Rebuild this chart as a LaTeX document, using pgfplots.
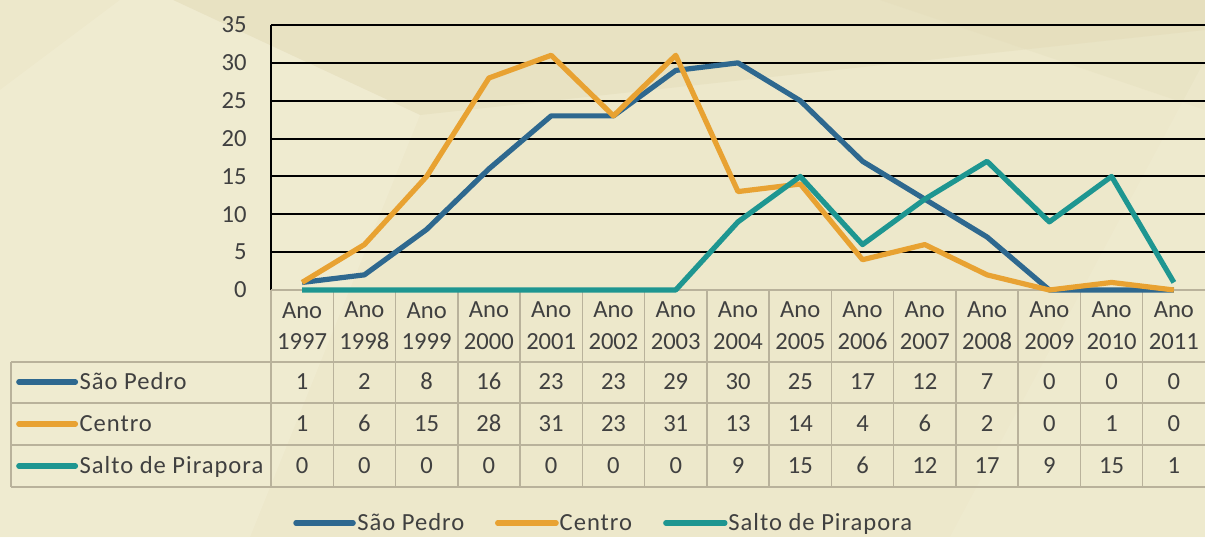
\documentclass[border=0pt]{standalone}
\usepackage{pgfplots}
\usepackage{pgfplotstable}
\pgfplotsset{compat=1.18}
\usepackage{fontspec}
\setmainfont{Carlito}
\newfontfamily\labfont[LetterSpace=4]{Carlito}

\definecolor{bgbase}{RGB}{237,232,203}
\definecolor{bgdark}{RGB}{226,219,184}
\definecolor{bglight}{RGB}{242,238,214}
\definecolor{spblue}{RGB}{46,104,143}
\definecolor{ceorange}{RGB}{232,162,50}
\definecolor{sateal}{RGB}{30,150,145}
\definecolor{tablegray}{RGB}{185,178,155}
\definecolor{textgray}{RGB}{64,64,64}

\pgfplotstableread{
x sp ce sa
0 1 1 0
1 2 6 0
2 8 15 0
3 16 28 0
4 23 31 0
5 23 23 0
6 29 31 0
7 30 13 9
8 25 14 15
9 17 4 6
10 12 6 12
11 7 2 17
12 0 0 9
13 0 1 15
14 0 0 1
}\data

\begin{document}
\fontsize{12.3}{15.8}\selectfont
\begin{tikzpicture}[
  cell/.style={text=textgray, font=\fontsize{12.3}{15.8}\selectfont, inner sep=0pt, text height=7.8pt, text depth=0pt, anchor=center},
  lab/.style={cell, anchor=west, font=\labfont\fontsize{12.3}{15.8}\selectfont},
  hdr/.style={text=textgray, font=\fontsize{12.3}{15.8}\selectfont, inner sep=0pt, align=center, anchor=center}
]
\clip (0,0) rectangle (602.5pt,268.5pt);
\fill[bgbase] (0,0) rectangle (602.5pt,268.5pt);
\begin{scope}[x=0.5pt, y=-0.5pt, yshift=268.5pt]
  \fill[bgdark, opacity=0.45] (173,0) -- (1205,0) -- (1205,30) -- (420,115) -- cycle;
  \fill[bglight, opacity=0.5] (0,90) -- (120,0) -- (173,0) -- (420,115) -- (250,537) -- (0,537) -- cycle;
  \fill[bgdark, opacity=0.3] (880,0) -- (1205,0) -- (1205,110) -- cycle;
  \fill[bglight, opacity=0.35] (1205,60) -- (1205,537) -- (950,537) -- cycle;
\end{scope}
\begin{axis}[
  at={(135.5pt,123.5pt)}, anchor=south west,
  scale only axis, width=467pt, height=132.5pt,
  xmin=-0.5, xmax=14.5, ymin=0, ymax=35,
  clip=false,
  axis x line=none,
  axis y line*=left,
  y axis line style={black, line width=1pt, -},
  ytick={5,10,...,35},
  extra y ticks={0},
  extra y tick style={ymajorgrids=false},
  ymajorgrids,
  major grid style={black, line width=1pt},
  major tick length=0pt,
  yticklabel style={text=textgray, font=\fontsize{12.3}{15.8}\selectfont, inner sep=0pt, xshift=-12pt},
  /pgf/number format/assume math mode=true,
]
% table grid
\draw[tablegray, line width=0.75pt] (axis cs:-0.5,0) -- (axis cs:14.5,0);
\pgfplotsinvokeforeach{-9.51,-14.93,-20.47,-26.02}{
  \draw[tablegray, line width=0.75pt] (axis cs:-4.675,#1) -- (axis cs:14.5,#1);
}
\pgfplotsinvokeforeach{-0.5,0.5,...,13.5}{
  \draw[tablegray, line width=0.75pt] (axis cs:#1,0) -- (axis cs:#1,-26.02);
}
\draw[tablegray, line width=0.75pt] (axis cs:-4.675,-9.51) -- (axis cs:-4.675,-26.02);
% header and values
\pgfplotsinvokeforeach{0,...,14}{
  \pgfmathtruncatemacro\yr{1997+#1}
  \edef\tmp{\noexpand\node[hdr] at (axis cs:#1,-4.75) {Ano\noexpand\\\yr};}\tmp
  \pgfplotstablegetelem{#1}{sp}\of\data
  \edef\tmp{\noexpand\node[cell] at (axis cs:#1,-12.15) {\pgfplotsretval};}\tmp
  \pgfplotstablegetelem{#1}{ce}\of\data
  \edef\tmp{\noexpand\node[cell] at (axis cs:#1,-17.70) {\pgfplotsretval};}\tmp
  \pgfplotstablegetelem{#1}{sa}\of\data
  \edef\tmp{\noexpand\node[cell] at (axis cs:#1,-23.25) {\pgfplotsretval};}\tmp
}
% row labels with legend keys
\draw[spblue, line width=2.6pt, line cap=round] (axis cs:-4.55,-12.15) -- (axis cs:-3.64,-12.15);
\node[lab] at (axis cs:-3.58,-12.15) {São Pedro};
\draw[ceorange, line width=2.6pt, line cap=round] (axis cs:-4.55,-17.70) -- (axis cs:-3.64,-17.70);
\node[lab] at (axis cs:-3.58,-17.70) {Centro};
\draw[sateal, line width=2.6pt, line cap=round] (axis cs:-4.55,-23.25) -- (axis cs:-3.64,-23.25);
\node[lab] at (axis cs:-3.58,-23.25) {Salto de Pirapora};
% bottom legend
\draw[spblue, line width=2.6pt, line cap=round] (axis cs:-0.10,-30.77) -- (axis cs:0.82,-30.77);
\node[lab] at (axis cs:0.88,-30.77) {São Pedro};
\draw[ceorange, line width=2.6pt, line cap=round] (axis cs:3.14,-30.77) -- (axis cs:4.08,-30.77);
\node[lab] at (axis cs:4.13,-30.77) {Centro};
\draw[sateal, line width=2.6pt, line cap=round] (axis cs:5.84,-30.77) -- (axis cs:6.79,-30.77);
\node[lab] at (axis cs:6.84,-30.77) {Salto de Pirapora};
% series
\addplot[spblue, line width=2.6pt, line join=round, mark=none] table[x=x, y=sp]{\data};
\addplot[ceorange, line width=2.6pt, line join=round, mark=none] table[x=x, y=ce]{\data};
\addplot[sateal, line width=2.6pt, line join=round, mark=none] table[x=x, y=sa]{\data};
\end{axis}
\end{tikzpicture}
\end{document}
